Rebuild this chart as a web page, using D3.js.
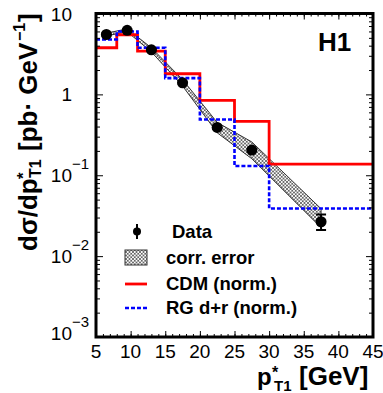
<!DOCTYPE html>
<html>
<head>
<meta charset="utf-8">
<script src="https://cdn.jsdelivr.net/npm/d3@7"></script>
<style>
  body { margin: 0; background: #fff; }
  text { font-family: "Liberation Sans", Arial, Helvetica, sans-serif; fill: #000; }
</style>
</head>
<body>
<div id="chart"></div>
<script>
// bin edges of the pT histograms [GeV]
var binEdges = [5, 8, 11, 15, 20, 25, 30, 45];
// measured cross section (bin centres)
var dataX = [6.5, 9.5, 13, 17.5, 22.5, 27.5, 37.5];
var dataY = [5.5, 6.2, 3.56, 1.39, 0.39, 0.205, 0.0266];
var dataErrLo = [5.35, 6.05, 3.46, 1.35, 0.378, 0.198, 0.021];
var dataErrHi = [5.65, 6.35, 3.66, 1.43, 0.402, 0.212, 0.0327];
// correlated error band
var corrLo = [5.28, 5.95, 3.35, 1.27, 0.335, 0.160, 0.0225];
var corrHi = [5.72, 6.45, 3.77, 1.52, 0.45, 0.258, 0.0385];
// model predictions per bin
var cdm = [3.77, 5.46, 3.43, 1.80, 0.843, 0.464, 0.137];
var rg = [4.78, 6.0, 3.77, 1.59, 0.49, 0.130, 0.0388];
// axis ticks
var xTicks = [5, 10, 15, 20, 25, 30, 35, 40, 45];
var yTicks = [10, 1, 0.1, 0.01, 0.001];
var yTickBase = ["10", "1", "10", "10", "10"];
var yTickExp = ["", "", "\u22121", "\u22122", "\u22123"];
var legendLabels = ["Data", "corr. error", "CDM (norm.)", "RG d+r (norm.)"];

var width = 383, height = 393;
var mLeft = 96, mRight = 373, mTop = 13.5, mBottom = 337;

var svg = d3.select("#chart")
  .append("svg")
  .attr("width", width)
  .attr("height", height);

var x = d3.scaleLinear().domain([5, 45]).range([mLeft, mRight]);
var y = d3.scaleLog().domain([1e-3, 10]).range([mBottom, mTop]);

// hatch pattern for the error band
var pat = svg.append("defs").append("pattern")
  .attr("id", "hatch")
  .attr("patternUnits", "userSpaceOnUse")
  .attr("width", 3.5)
  .attr("height", 3.5);
pat.append("rect").attr("width", 3.5).attr("height", 3.5).attr("fill", "#fff");
pat.append("path")
  .attr("d", "M0,0 L3.5,3.5 M3.5,0 L0,3.5")
  .attr("stroke", "#555")
  .attr("stroke-width", 0.8);

// correlated error band
var band = d3.area()
  .x((d, i) => x(dataX[i]))
  .y0((d, i) => y(corrLo[i]))
  .y1((d, i) => y(corrHi[i]));

svg.append("path")
  .datum(dataX)
  .attr("d", band)
  .attr("fill", "url(#hatch)")
  .attr("stroke", "#333")
  .attr("stroke-width", 1);

// histograms drawn as steps
function stepPoints(vals) {
  var pts = vals.map((v, i) => [binEdges[i], v]);
  pts.push([binEdges[binEdges.length - 1], vals[vals.length - 1]]);
  return pts;
}
var step = d3.line()
  .x((d) => x(d[0]))
  .y((d) => y(d[1]))
  .curve(d3.curveStepAfter);

svg.append("path")
  .datum(stepPoints(cdm))
  .attr("d", step)
  .attr("fill", "none")
  .attr("stroke", "#ff0000")
  .attr("stroke-width", 2.8);

svg.append("path")
  .datum(stepPoints(rg))
  .attr("d", step)
  .attr("fill", "none")
  .attr("stroke", "#0000ff")
  .attr("stroke-width", 2.6)
  .attr("stroke-dasharray", "4,2");

// data points with error bars
var pts = svg.append("g");
pts.selectAll("line.err")
  .data(dataX)
  .enter()
  .append("line")
  .attr("x1", (d) => x(d))
  .attr("x2", (d) => x(d))
  .attr("y1", (d, i) => y(dataErrLo[i]))
  .attr("y2", (d, i) => y(dataErrHi[i]))
  .attr("stroke", "#000")
  .attr("stroke-width", 2);
pts.selectAll("path.cap")
  .data(dataX)
  .enter()
  .append("path")
  .attr("d", (d, i) => "M" + (x(d) - 5) + "," + y(dataErrLo[i]) + "h10" +
    "M" + (x(d) - 5) + "," + y(dataErrHi[i]) + "h10")
  .attr("stroke", "#000")
  .attr("stroke-width", 2);
pts.selectAll("circle")
  .data(dataX)
  .enter()
  .append("circle")
  .attr("cx", (d) => x(d))
  .attr("cy", (d, i) => y(dataY[i]))
  .attr("r", 5.5)
  .attr("fill", "#000");

// axes: ticks point into the frame on all four sides
var minorX = d3.range(5, 46, 1);
var minorY = [];
[0.001, 0.01, 0.1, 1].forEach(function (dec) {
  for (var k = 2; k <= 9; k++) minorY.push(dec * k);
});

function addAxis(axis, tx, ty) {
  var g = svg.append("g")
    .attr("transform", "translate(" + tx + "," + ty + ")")
    .call(axis);
  g.select(".domain").remove();
  g.selectAll("line").attr("stroke", "#000").attr("stroke-width", 1);
  return g;
}

addAxis(d3.axisBottom(x).tickValues(minorX).tickSize(-3).tickFormat(""), 0, mBottom);
addAxis(d3.axisBottom(x).tickValues(xTicks).tickSize(-6).tickFormat(""), 0, mBottom);
addAxis(d3.axisTop(x).tickValues(minorX).tickSize(-3).tickFormat(""), 0, mTop);
addAxis(d3.axisTop(x).tickValues(xTicks).tickSize(-6).tickFormat(""), 0, mTop);
addAxis(d3.axisLeft(y).tickValues(minorY).tickSize(-4).tickFormat(""), mLeft, 0);
addAxis(d3.axisLeft(y).tickValues(yTicks).tickSize(-7).tickFormat(""), mLeft, 0);
addAxis(d3.axisRight(y).tickValues(minorY).tickSize(-4).tickFormat(""), mRight, 0);
addAxis(d3.axisRight(y).tickValues(yTicks).tickSize(-7).tickFormat(""), mRight, 0);

// frame
svg.append("rect")
  .attr("x", mLeft)
  .attr("y", mTop)
  .attr("width", mRight - mLeft)
  .attr("height", mBottom - mTop)
  .attr("fill", "none")
  .attr("stroke", "#000")
  .attr("stroke-width", 3);

// x tick labels
svg.append("g")
  .selectAll("text")
  .data(xTicks)
  .enter()
  .append("text")
  .attr("x", (d) => x(d))
  .attr("y", 358)
  .attr("text-anchor", "middle")
  .style("font-size", "19px")
  .text((d) => d);

// y tick labels, 10 with exponent
var yl = svg.append("g")
  .selectAll("g")
  .data(yTicks)
  .enter()
  .append("g");
yl.append("text")
  .attr("x", 72)
  .attr("y", (d) => Math.min(y(d) + 7, 340))
  .attr("text-anchor", "end")
  .style("font-size", "19px")
  .text((d, i) => yTickBase[i]);
yl.append("text")
  .attr("x", 72)
  .attr("y", (d) => Math.min(y(d) + 7, 340) - 13)
  .style("font-size", "15px")
  .text((d, i) => yTickExp[i]);

// H1 tag
svg.append("text")
  .attr("x", 318)
  .attr("y", 51)
  .style("font-size", "26px")
  .style("font-weight", "bold")
  .text("H1");

// x axis title
var xt = svg.append("g").style("font-weight", "bold");
xt.append("text").attr("x", 257).attr("y", 385).style("font-size", "24px").text("p");
xt.append("text").attr("x", 272).attr("y", 378).style("font-size", "16px").text("*");
xt.append("text").attr("x", 274).attr("y", 391).style("font-size", "15px").text("T1");
xt.append("text").attr("x", 299).attr("y", 385).style("font-size", "26px").text("[GeV]");

// y axis title (rotated)
var yt = svg.append("g")
  .attr("transform", "translate(37,251) rotate(-90)")
  .style("font-weight", "bold");
yt.append("text").attr("x", 0).attr("y", 0).style("font-size", "26px").text("d\u03c3/dp");
yt.append("text").attr("x", 72).attr("y", -8).style("font-size", "17px").text("*");
yt.append("text").attr("x", 73).attr("y", 4).style("font-size", "16px").text("T1");
yt.append("text").attr("x", 100).attr("y", 0).style("font-size", "26px").text("[pb\u00b7 GeV");
yt.append("text").attr("x", 210).attr("y", -12).style("font-size", "16px").text("\u22121");
yt.append("text").attr("x", 229).attr("y", 0).style("font-size", "26px").text("]");

// legend
var legY = [238, 264, 290, 313.5];
var lg = svg.append("g");
lg.append("line")
  .attr("x1", 137).attr("x2", 137)
  .attr("y1", legY[0] - 14).attr("y2", legY[0] + 1)
  .attr("stroke", "#000").attr("stroke-width", 2);
lg.append("circle").attr("cx", 137).attr("cy", legY[0] - 6.5).attr("r", 4).attr("fill", "#000");
lg.append("rect")
  .attr("x", 125).attr("y", 250).attr("width", 22).attr("height", 15)
  .attr("fill", "url(#hatch)").attr("stroke", "#333").attr("stroke-width", 1);
lg.append("line")
  .attr("x1", 125).attr("x2", 147)
  .attr("y1", 284).attr("y2", 284)
  .attr("stroke", "#ff0000").attr("stroke-width", 2.8);
lg.append("line")
  .attr("x1", 125).attr("x2", 147)
  .attr("y1", 308).attr("y2", 308)
  .attr("stroke", "#0000ff").attr("stroke-width", 2.6)
  .attr("stroke-dasharray", "4,2");
lg.selectAll("text")
  .data(legendLabels)
  .enter()
  .append("text")
  .attr("x", (d, i) => (i === 0 ? 172 : 166))
  .attr("y", (d, i) => legY[i])
  .style("font-size", "18.5px")
  .style("font-weight", "bold")
  .text((d) => d);
</script>
</body>
</html>
